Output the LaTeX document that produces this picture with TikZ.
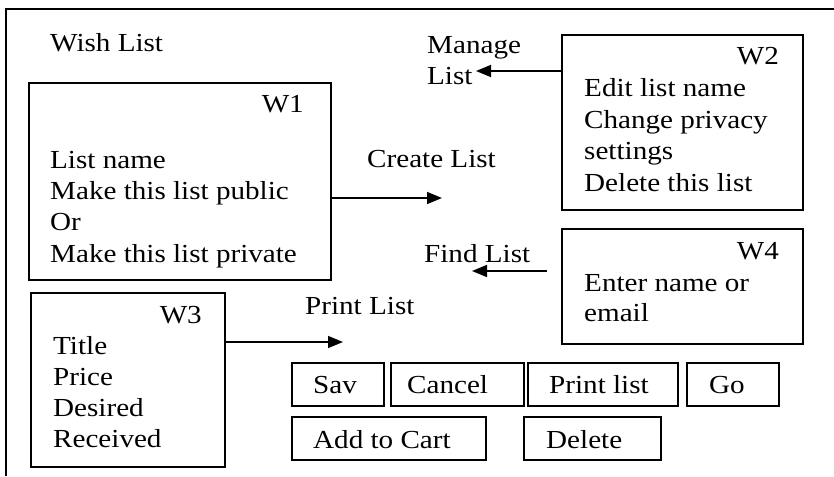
\documentclass[tikz,border=0pt]{standalone}
\usepackage{fontspec}
\setmainfont{Liberation Serif}[FakeStretch=1.12]
\usetikzlibrary{arrows.meta}
\begin{document}
\begin{tikzpicture}[x=1pt,y=-1pt,
  txt/.style={inner sep=0pt, anchor=base west, font=\fontsize{26}{31}\selectfont},
  lbl/.style={txt, anchor=base east},
  box/.style={draw, line width=1.6pt, inner sep=0pt, anchor=north west},
  frame/.style={line width=1.8pt},
  arr/.style={line width=1.6pt, -{Triangle[length=15pt,width=12pt]}}]
\useasboundingbox (0,0) rectangle (834,476);

% outer frame (only its top and left sides fall inside the page)
\coordinate (fbl) at (6,476);
\coordinate (ftl) at (6,9);
\coordinate (ftr) at (834,9);
\draw[frame] (fbl) -- (ftl) -- (ftr);

\node[txt] (title) at (50,52) {Wish List};

% window W1
\node[box, minimum width=302pt, minimum height=197pt] (w1) at (28,82) {};
\node[lbl] (w1id) at (304,113) {W1};
\foreach \t [count=\i] in {List name, Make this list public, Or, Make this list private}
  \node[txt] (w1t\i) at (50,{168+31.4*(\i-1)}) {\t};

% window W2
\node[box, minimum width=241pt, minimum height=175pt] (w2) at (561,34) {};
\node[lbl] (w2id) at (779,65) {W2};
\foreach \t [count=\i] in {Edit list name, Change privacy, settings, Delete this list}
  \node[txt] (w2t\i) at (584,{97+31.4*(\i-1)}) {\t};

% window W4
\node[box, minimum width=241pt, minimum height=115pt] (w4) at (561,228) {};
\node[lbl] (w4id) at (779,259) {W4};
\node[txt] (w4t1) at (584,291) {Enter name or};
\node[txt] (w4t2) at (584,321) {email};

% window W3
\node[box, minimum width=194pt, minimum height=174pt] (w3) at (30,292) {};
\node[lbl] (w3id) at (202,323) {W3};
\foreach \t [count=\i] in {Title, Price, Desired, Received}
  \node[txt] (w3t\i) at (53,{354+31.3*(\i-1)}) {\t};

% action labels
\node[txt] (manage1) at (427,54) {Manage};
\node[txt] (manage2) at (427,85) {List};
\node[txt] (create) at (367,167) {Create List};
\node[txt] (find) at (424,262) {Find List};
\node[txt] (print) at (305,314) {Print List};

% connectors
\coordinate (manageTip) at (476,71);
\draw[arr] (w2.west |- manageTip) -- (manageTip);
\coordinate (createTip) at (442,198);
\draw[arr] (w1.east |- createTip) -- (createTip);
\coordinate (findStart) at (547,271);
\coordinate (findTip) at (472,271);
\draw[arr] (findStart) -- (findTip);
\coordinate (printTip) at (343,342);
\draw[arr] (w3.east |- printTip) -- (printTip);

% buttons, first row
\node[box, minimum width=92pt, minimum height=43pt] (bsav) at (291,362) {};
\node[box, minimum width=133pt, minimum height=43pt] (bcancel) at (390,362) {};
\node[box, minimum width=150pt, minimum height=43pt] (bprint) at (527,362) {};
\node[box, minimum width=92pt, minimum height=43pt] (bgo) at (686,362) {};
\node[txt] (tsav) at (313,393) {Sav};
\node[txt] (tcancel) at (407,393) {Cancel};
\node[txt] (tprint) at (549,393) {Print list};
\node[txt] (tgo) at (709,393) {Go};

% buttons, second row
\node[box, minimum width=194pt, minimum height=43pt] (bcart) at (291,416) {};
\node[box, minimum width=137pt, minimum height=43pt] (bdelete) at (523,416) {};
\node[txt] (tcart) at (313,448) {Add to Cart};
\node[txt] (tdelete) at (546,448) {Delete};
\end{tikzpicture}
\end{document}
